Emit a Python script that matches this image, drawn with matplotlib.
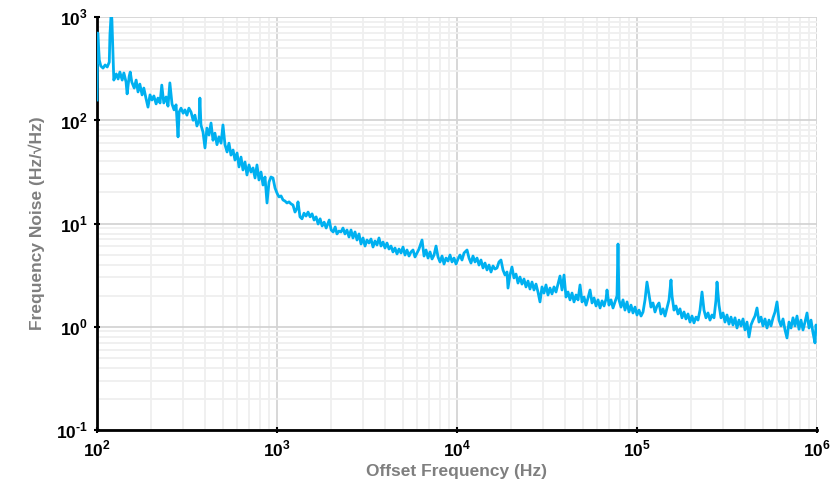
import matplotlib
matplotlib.use("Agg")
import matplotlib.pyplot as plt
from matplotlib.ticker import LogLocator, FuncFormatter, NullFormatter
import numpy as np

plt.rcParams['font.family'] = ['Liberation Sans', 'DejaVu Sans']
plt.rcParams['mathtext.fontset'] = 'custom'
plt.rcParams['mathtext.rm'] = 'Liberation Sans'
plt.rcParams['mathtext.bf'] = 'Liberation Sans:bold'

# Offset frequency (Hz)
freq = [
    100, 101, 103, 105, 108, 111, 114, 117, 118, 120, 121, 123, 124, 128, 131, 134, 138, 141, 145, 147,
    151, 153, 156, 161, 165, 169, 173, 178, 182, 187, 192, 197, 202, 207, 213, 218, 224, 229, 235, 242,
    248, 254, 261, 268, 275, 282, 286, 293, 301, 308, 316, 324, 333, 342, 350, 359, 369, 373, 378, 388,
    398, 408, 419, 430, 441, 452, 464, 476, 489, 501, 514, 528, 541, 555, 570, 584, 600, 615, 631, 647,
    664, 681, 699, 717, 736, 755, 774, 794, 815, 836, 858, 880, 903, 926, 950, 975, 1000, 1026, 1053, 1080,
    1108, 1136, 1166, 1196,
    1227, 1259, 1292, 1308, 1342, 1377, 1413, 1450, 1488, 1527, 1566, 1607, 1649, 1692, 1736, 1781, 1828, 1876,
    1950, 2000, 2052, 2105, 2154, 2210, 2267, 2326, 2386, 2448, 2512, 2577, 2643, 2712, 2783, 2855, 2929, 3005,
    3083, 3162, 3244, 3328, 3415, 3503, 3594, 3687, 3783, 3881, 3981, 4084, 4190, 4299, 4410, 4524, 4642, 4762,
    4886, 5012, 5142, 5275, 5412, 5552, 5696, 5844, 5995, 6150, 6394, 6560, 6730, 6904, 7083, 7266, 7454, 7648,
    7845, 8049, 8257, 8471, 8690, 8915, 9146, 9383, 9626, 9875, 10130, 10390, 10660, 10940, 11370, 11660, 11960,
    12270, 12590, 12920, 13250, 13590, 13950, 14310, 14680, 15060, 15450, 15850, 16260, 16680, 17110,
    17550, 18010, 18480, 18960, 19200, 19690, 20200, 20730, 21270, 21820, 22380, 22960, 23560, 24170, 24800,
    25440, 26100, 26780, 27470, 28180, 28910, 29660, 30430, 31220, 32030, 32860, 33710, 34590, 35480, 36400,
    37350, 38320, 39310, 40330, 41380, 42450, 43550, 44680, 45840, 47030, 48250, 49500, 50780, 52100, 53450,
    54840, 56260, 57720, 59220, 60750, 62330, 63950, 65600, 67310, 68130, 69900, 71710, 73570, 75480, 77430,
    78430, 79430, 81500, 83600, 85770, 88000, 90280, 92630, 95020, 97500, 100000, 102600, 105300, 108000,
    110800, 113600, 116600, 119600, 122700, 125900, 129200, 132500, 135900, 139500, 143100, 146800, 150600,
    154500, 156500, 160500, 164700, 169000, 173300, 177800, 182400, 187100, 192000, 197000, 202100, 207300,
    212700, 218200, 223900, 229700, 235600, 241700, 248000, 254400, 261000, 267800, 274700, 278300, 285500,
    292900, 300500, 308300, 316200, 324400, 332800, 341500, 350300, 359400, 368700, 378300, 388100, 398100,
    408400, 419000, 429900, 441000, 452400, 464200, 476200, 488600, 501200, 514200, 527500, 541200, 555200,
    569600, 584400, 599500, 615000, 631000, 647400, 664200, 681300, 699000, 717100, 735600, 754800, 774300,
    794300, 815000, 836000, 857700, 880000, 902800, 926300, 950200, 975000, 987500, 1000000,
]

# Frequency noise (Hz/sqrt(Hz))
noise = [
    157, 700, 383, 335, 320, 343, 328, 366, 670, 1120, 935, 383, 245, 281, 251, 293, 245, 287, 235, 180,
    268, 293, 235, 205, 245, 188, 224, 176, 205, 164, 134, 176, 157, 172, 144, 164, 147, 219, 147, 168,
    137, 230, 144, 126, 141, 69, 120, 131, 117, 126, 112, 131, 120, 100, 112, 88, 100, 164, 90, 76.9,
    54, 84, 72, 94, 64, 75, 58, 69, 60, 90, 58, 49.3, 60, 46, 51.5, 41.2, 48.2, 35.3, 44, 33,
    39.4, 29.5, 36.9, 31.5, 34.5, 27.6, 36.9, 26.4, 31.5, 23.6, 28.2, 15.8, 25.2, 28.2, 27.6, 22.1, 19.7, 18.1, 18.5, 16.9,
    16.5, 15.8, 16.2, 15.5,
    15.1, 12.9, 14.1, 16.2, 11.6, 11.1, 12.6, 11.8, 12.9, 11.6, 12.4, 10.8, 11.6, 9.89, 11.1, 9.46, 10.3, 9.04,
    10.8, 8.65, 8.28, 9.25, 7.92, 8.46, 8.28, 9.04, 7.92, 8.65, 7.40, 8.65, 7.24, 8.28, 6.92, 7.92, 6.33, 7.24,
    6.05, 6.92, 6.47, 7.08, 5.92, 6.77, 6.19, 7.24, 6.05, 6.62, 5.79, 6.47, 5.66, 6.05, 5.30, 5.79, 5.07, 5.66,
    5.18, 5.92, 4.95, 5.54, 4.84, 5.30, 5.54, 4.74, 5.18, 5.66, 6.92, 4.84, 5.54, 4.63, 5.30, 4.53, 4.95, 6.05,
    4.74, 4.24, 4.84, 4.05, 4.63, 4.33, 4.95, 4.24, 4.63, 4.05, 4.53, 4.95, 4.43, 5.18, 5.54, 4.63, 4.14,
    4.84, 4.24, 4.63, 3.96, 4.43, 3.71, 4.14, 3.55, 3.96, 3.39, 3.88, 3.62, 3.71, 4.24,
    4.43, 3.55, 3.17, 3.39, 2.37, 3.17, 3.79, 2.97, 3.24, 2.65, 3.03, 2.59, 2.90, 2.43, 2.77,
    2.32, 2.71, 2.27, 2.59, 2.17, 1.74, 2.43, 2.12, 2.54, 2.03, 2.37, 2.08, 2.43, 2.17, 2.59,
    3.10, 2.27, 3.17, 1.94, 2.17, 1.82, 2.12, 1.74, 2.03, 1.82, 2.54, 1.74, 1.94, 1.62, 1.90,
    2.27, 1.70, 1.90, 1.59, 1.82, 1.52, 1.78, 1.59, 1.86, 2.27, 1.62, 1.82, 1.52, 1.74, 1.99,
    6.33, 1.82, 1.55, 1.82, 1.45, 1.74, 1.39, 1.62, 1.36, 1.55, 1.30, 1.45, 1.27, 1.39,
    1.82, 2.71, 2.03, 1.55, 1.70, 1.39, 1.59, 1.70, 1.33, 1.49, 1.27, 1.52, 1.82,
    2.84, 1.99, 1.45, 1.59, 1.33, 1.49, 1.22, 1.39, 1.19, 1.33, 1.11, 1.27, 1.09,
    1.24, 1.16, 1.45, 2.17, 1.45, 1.22, 1.36, 1.16, 1.30, 1.22, 1.82, 2.71, 1.62,
    1.22, 1.36, 1.11, 1.30, 1.06, 1.24, 1.04, 1.22, 0.973, 1.16, 1.02, 1.19, 0.931,
    1.11, 0.796, 1.04, 1.16, 1.27, 1.52, 1.11, 1.24, 1.02, 1.19, 0.973, 1.16, 1.02,
    1.22, 1.39, 1.74, 1.16, 1.02, 1.19, 0.931, 0.779, 1.11, 0.973, 1.22, 1.02, 1.27,
    0.946, 1.16, 0.931, 1.11, 1.36, 0.973, 1.16, 0.871, 0.697, 1.04, 0.931,
]

x_label = "Offset Frequency (Hz)"
y_label = "Frequency Noise (Hz/\u221aHz)"

fig = plt.figure(figsize=(8.33, 4.83), dpi=100)
ax = fig.add_axes([97 / 833, 1 - 430 / 483, 720 / 833, 413 / 483])

ax.plot(freq, noise, color="#00B0F0", lw=2.0, solid_joinstyle="round", zorder=3)

ax.set_xscale("log")
ax.set_yscale("log")
ax.set_xlim(1e2, 1e6)
ax.set_ylim(1e-1, 1e3)

ax.xaxis.set_major_locator(LogLocator(base=10, numticks=10))
ax.yaxis.set_major_locator(LogLocator(base=10, numticks=10))
ax.xaxis.set_minor_locator(LogLocator(base=10, subs=np.arange(2, 10), numticks=20))
ax.yaxis.set_minor_locator(LogLocator(base=10, subs=np.arange(2, 10), numticks=20))


def _fmt(v, p):
    e = int(round(np.log10(v)))
    es = ("\u2010%d" % -e) if e < 0 else ("%d" % e)
    return r"$\mathbf{10}^{\mathbf{%s}}$" % es


fmt = FuncFormatter(_fmt)
ax.xaxis.set_major_formatter(fmt)
ax.yaxis.set_major_formatter(fmt)
ax.xaxis.set_minor_formatter(NullFormatter())
ax.yaxis.set_minor_formatter(NullFormatter())

ax.grid(which="major", color="#d4d4d4", lw=1.3, zorder=1)
ax.grid(which="minor", color="#efefef", lw=1.3, zorder=0)
ax.set_axisbelow(True)

for s in ["top", "right"]:
    ax.spines[s].set_visible(False)
for s in ["left", "bottom"]:
    ax.spines[s].set_color("black")
    ax.spines[s].set_linewidth(2)

ax.tick_params(which="major", direction="inout", length=5, width=1.5, color="black",
               labelsize=12.5, labelcolor="black", pad=4)
ax.tick_params(which="minor", length=0)

ax.set_xlabel(x_label, fontsize=12.5, fontweight="bold", color="#7f7f7f", labelpad=3)
ax.set_ylabel(y_label, fontsize=12.5, fontweight="bold", color="#7f7f7f", labelpad=8)

fig.savefig("out.png", dpi=100)
